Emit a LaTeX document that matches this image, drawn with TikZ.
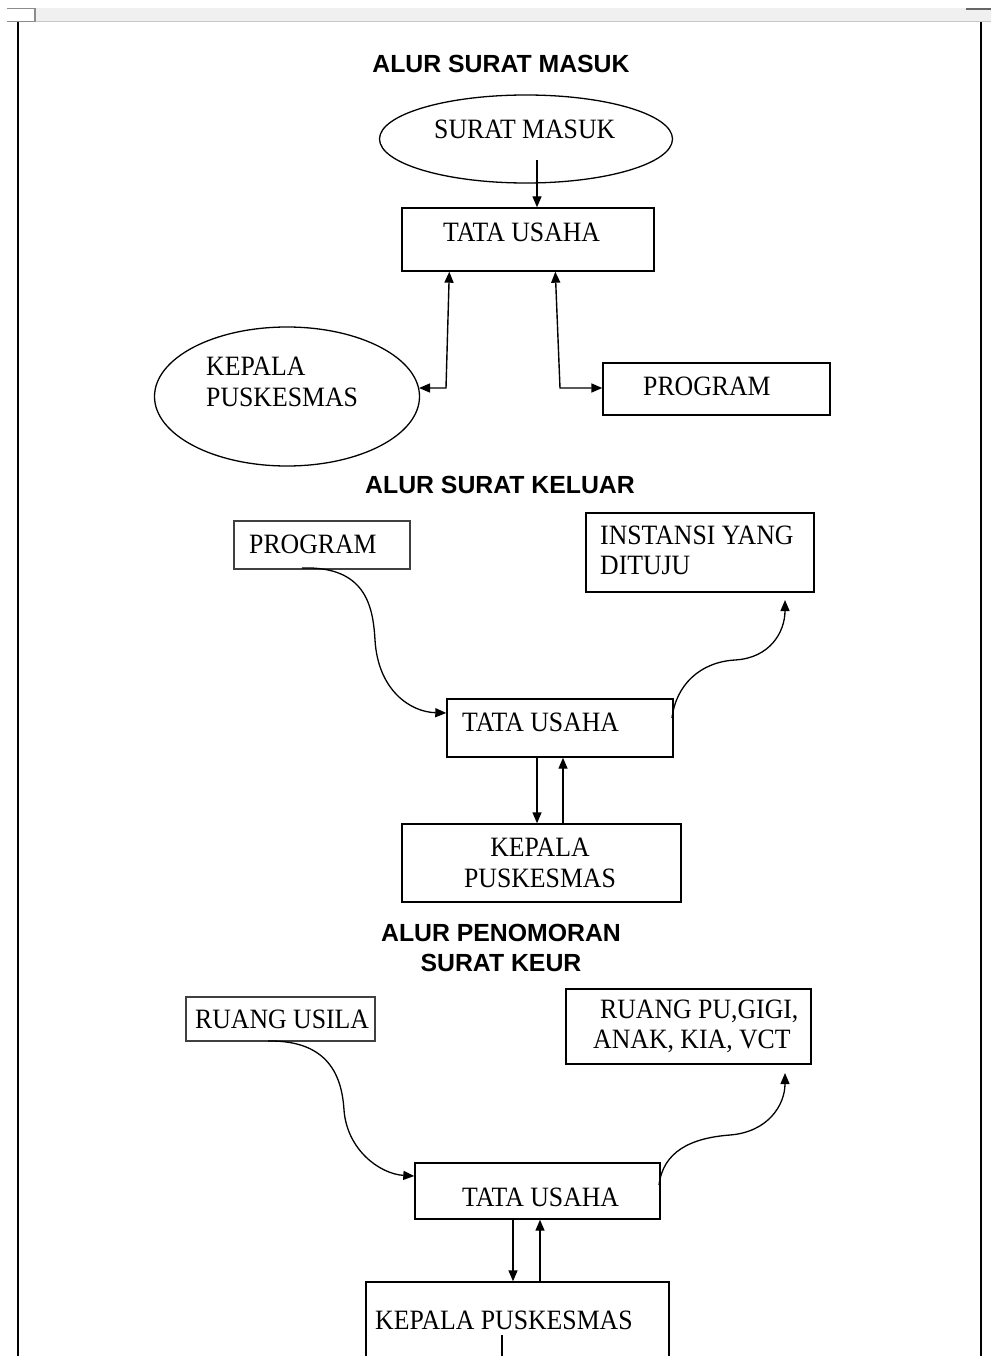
\documentclass[tikz,border=0pt]{standalone}
\usepackage{fontspec}
\setmainfont{Liberation Serif}
\newfontfamily\titlefont{Liberation Sans}
\newfontfamily\boxfont[FakeStretch=0.92]{Liberation Serif}
\usetikzlibrary{shapes.geometric,arrows.meta,calc}
\tikzset{
  box/.style={draw, line width=1.4pt, rectangle, inner sep=0pt},
  shadowbox/.style={box, draw=black!75, line width=2.2pt},
  oval/.style={draw, line width=1.3pt, ellipse, inner sep=0pt},
  txt/.style={font=\boxfont\fontsize{28}{30}\selectfont, inner sep=0pt, anchor=base west},
  ttl/.style={font=\titlefont\bfseries\fontsize{24.8}{30}\selectfont, inner sep=0pt, anchor=base},
  tip/.tip={Triangle[length=11pt,width=9pt]},
  conn/.style={line width=1.4pt, -tip},
  conn2/.style={line width=1.4pt, tip-tip},
  curve/.style={line width=1.3pt, -tip},
}
\begin{document}
\begin{tikzpicture}[x=1pt,y=-1pt]
\clip (0,0) rectangle (991,1356);
\fill[white] (0,0) rectangle (991,1356);
% page chrome
\fill[black!6] (35,8) rectangle (991,22);
\draw[black!22, line width=1pt] (35,22) -- (991,22);
\draw[black!45, line width=1.2pt] (7,8.5) -- (35,8.5) -- (35,21.5) -- (7,21.5);
\draw[black!60, line width=1.5pt] (966,9) -- (991,9);
\draw[line width=1.3pt] (18,22) -- (18,1356);
\draw[line width=1.3pt] (981,22) -- (981,1356);

% ---------- ALUR SURAT MASUK ----------
\node[ttl] (t1) at (501,73) {ALUR SURAT MASUK};
\node[oval, minimum width=293pt, minimum height=88pt] (sm) at (526,139) {};
\node[txt] (smt) at (434,139) {SURAT MASUK};
\node[box, minimum width=252pt, minimum height=63pt] (tu1) at (528,239.5) {};
\node[txt] (tu1t) at (443,242) {TATA USAHA};
\node[oval, minimum width=265pt, minimum height=139pt] (kp1) at (287,396.5) {};
\node[txt] (kp1a) at (206,375) {KEPALA};
\node[txt] (kp1b) at (206,406) {PUSKESMAS};
\node[box, minimum width=227pt, minimum height=52pt] (pr1) at (716.5,389) {};
\node[txt] (pr1t) at (643,395) {PROGRAM};

\coordinate (smin) at (537,160);
\draw[conn] (smin) -- (smin |- tu1.north);
\coordinate (kp1r) at (419,388);
\coordinate (pr1l) at (pr1.west |- kp1r);
\draw[conn2] ($(tu1.south west)+(48,0)$) -- (446,388) -- (kp1r);
\draw[conn2] ($(tu1.south west)+(154,0)$) -- (560,388) -- (pr1l);

% ---------- ALUR SURAT KELUAR ----------
\node[ttl] (t2) at (500,493) {ALUR SURAT KELUAR};
\node[shadowbox, minimum width=176pt, minimum height=48pt] (pr2) at (322,545) {};
\node[txt] (pr2t) at (249,553) {PROGRAM};
\node[box, minimum width=228pt, minimum height=79pt] (ins) at (700,552.5) {};
\node[txt] (insa) at (600,544) {INSTANSI YANG};
\node[txt] (insb) at (600,574) {DITUJU};
\node[box, minimum width=226pt, minimum height=58pt] (tu2) at (560,728) {};
\node[txt] (tu2t) at (462,731) {TATA USAHA};
\node[box, minimum width=279pt, minimum height=78pt] (kp2) at (541.5,863) {};
\node[txt, anchor=base] (kp2a) at (540,856) {KEPALA};
\node[txt, anchor=base] (kp2b) at (540,887) {PUSKESMAS};

\coordinate (pr2o) at (302,568);
\coordinate (tu2i) at (tu2.west |- 0,713);
\draw[curve] (pr2o) .. controls (365,566) and (373,605) .. (375,640)
  .. controls (378,690) and (410,712) .. (tu2i);
\coordinate (tu2o) at (672,718);
\coordinate (insi) at (785,600);
\draw[curve] (tu2o) .. controls (676,685) and (700,662) .. (735,660)
  .. controls (770,658) and (785,632) .. (insi);
\draw[conn] (tu2.south -| 537,0) -- (kp2.north -| 537,0);
\draw[conn] (kp2.north -| 563,0) -- (tu2.south -| 563,0);

% ---------- ALUR PENOMORAN SURAT KEUR ----------
\node[ttl] (t3a) at (501,941) {ALUR PENOMORAN};
\node[ttl] (t3b) at (501,971) {SURAT KEUR};
\node[shadowbox, minimum width=189pt, minimum height=44pt] (us) at (280.5,1019) {};
\node[txt] (ust) at (195,1028) {RUANG USILA};
\node[box, minimum width=245pt, minimum height=75pt] (rpu) at (688.5,1026.5) {};
\node[txt] (rpua) at (600,1018) {RUANG PU,GIGI,};
\node[txt] (rpub) at (593,1048) {ANAK, KIA, VCT};
\node[box, minimum width=245pt, minimum height=56pt] (tu3) at (537.5,1191) {};
\node[txt] (tu3t) at (462,1206) {TATA USAHA};
\node[box, minimum width=303pt, minimum height=110pt] (kp3) at (517.5,1337) {};
\node[txt] (kp3t) at (375,1329) {KEPALA PUSKESMAS};
\coordinate (kp3m) at (502,1335);
\draw[line width=1.2pt] (kp3m) -- (kp3m |- kp3.south);

\coordinate (uso) at (268,1041);
\coordinate (tu3i) at (tu3.west |- 0,1176);
\draw[curve] (uso) .. controls (330,1040) and (342,1078) .. (344,1110)
  .. controls (347,1150) and (380,1174) .. (tu3i);
\coordinate (tu3o) at (659,1185);
\coordinate (rpui) at (785,1073);
\draw[curve] (tu3o) .. controls (663,1152) and (690,1138) .. (730,1135)
  .. controls (768,1132) and (785,1105) .. (rpui);
\draw[conn] (tu3.south -| 513,0) -- (kp3.north -| 513,0);
\draw[conn] (kp3.north -| 540,0) -- (tu3.south -| 540,0);
\end{tikzpicture}
\end{document}
